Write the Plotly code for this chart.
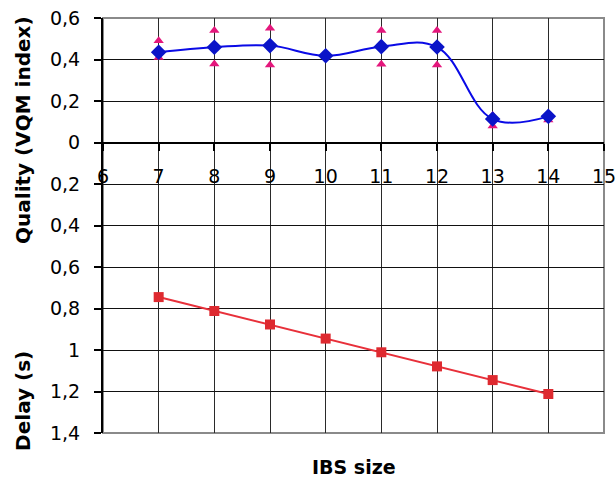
import plotly.graph_objects as go

ibs_size = [7, 8, 9, 10, 11, 12, 13, 14]
quality_mean = [0.435, 0.459, 0.467, 0.418, 0.462, 0.460, 0.113, 0.126]
quality_upper = [0.49, 0.54, 0.55, 0.42, 0.54, 0.54, 0.13, 0.135]
quality_lower = [0.41, 0.378, 0.373, 0.42, 0.377, 0.373, 0.08, 0.108]
delay_s = [0.745, 0.812, 0.877, 0.945, 1.011, 1.079, 1.145, 1.212]

y_tickvals = [0.6, 0.4, 0.2, 0, -0.2, -0.4, -0.6, -0.8, -1.0, -1.2, -1.4]
y_ticktext = ["0,6", "0,4", "0,2", "0", "0,2", "0,4", "0,6", "0,8", "1", "1,2", "1,4"]
x_tickvals = [6, 7, 8, 9, 10, 11, 12, 13, 14, 15]

FONT = "DejaVu Sans, Verdana, sans-serif"

fig = go.Figure()

fig.add_trace(go.Scatter(
    x=ibs_size, y=quality_upper, mode="markers",
    marker=dict(symbol="triangle-up", size=9, color="#E4177C"),
    showlegend=False, hoverinfo="skip"))
fig.add_trace(go.Scatter(
    x=ibs_size, y=quality_lower, mode="markers",
    marker=dict(symbol="triangle-up", size=9, color="#E4177C"),
    showlegend=False, hoverinfo="skip"))
fig.add_trace(go.Scatter(
    x=ibs_size, y=quality_mean, mode="lines+markers",
    line=dict(color="#0A0AE6", width=2, shape="spline", smoothing=1.1),
    marker=dict(symbol="diamond", size=12, color="#0A14C8"),
    showlegend=False))
fig.add_trace(go.Scatter(
    x=ibs_size, y=[-d for d in delay_s], mode="lines+markers",
    xaxis="x2",
    line=dict(color="#E8303A", width=2),
    marker=dict(symbol="square", size=10, color="#DE2A30"),
    showlegend=False))

fig.update_layout(
    width=616, height=480,
    margin=dict(l=103, r=12, t=18, b=47, autoexpand=False),
    paper_bgcolor="white", plot_bgcolor="white",
    font=dict(family=FONT, size=19, color="black"),
    xaxis=dict(
        range=[6, 15], tickvals=x_tickvals, showgrid=True,
        gridcolor="#2a2a2a", gridwidth=1, automargin=False,
        showticklabels=False, ticks="", showline=False, zeroline=False,
    ),
    xaxis2=dict(
        range=[6, 15], tickvals=x_tickvals, showgrid=False,
        overlaying="x", automargin=False,
        showline=True, linecolor="black", linewidth=2,
        anchor="free", position=0.7, ticks="outside", ticklen=7,
        tickcolor="black", tickwidth=2, ticklabelstandoff=10,
        ticklabeloverflow="allow", zeroline=False,
    ),
    yaxis=dict(
        range=[-1.4, 0.6], tickvals=y_tickvals, ticktext=y_ticktext,
        showgrid=True, gridcolor="#111111", gridwidth=1, automargin=False,
        showline=True, linecolor="black", linewidth=2,
        ticks="outside", ticklen=7, tickcolor="black", tickwidth=2,
        ticklabelstandoff=10, zeroline=False,
    ),
    shapes=[dict(type="rect", xref="paper", yref="paper", x0=0, x1=1, y0=0, y1=1,
                 line=dict(color="#8A8A8A", width=2), layer="below")],
    annotations=[
        dict(text="<b>Quality (VQM index)</b>", xref="paper", yref="paper",
             x=-0.16, y=0.73, textangle=-90, showarrow=False,
             xanchor="center", yanchor="middle", font=dict(size=20)),
        dict(text="<b>Delay (s)</b>", xref="paper", yref="paper",
             x=-0.16, y=0.077, textangle=-90, showarrow=False,
             xanchor="center", yanchor="middle", font=dict(size=20)),
        dict(text="<b>IBS size</b>", xref="paper", yref="paper",
             x=0.50, y=-0.082, showarrow=False,
             xanchor="center", yanchor="middle", font=dict(size=19)),
    ],
)

fig.write_html("out.html", config={"displayModeBar": False},
               post_script="document.body.style.margin='0';")
